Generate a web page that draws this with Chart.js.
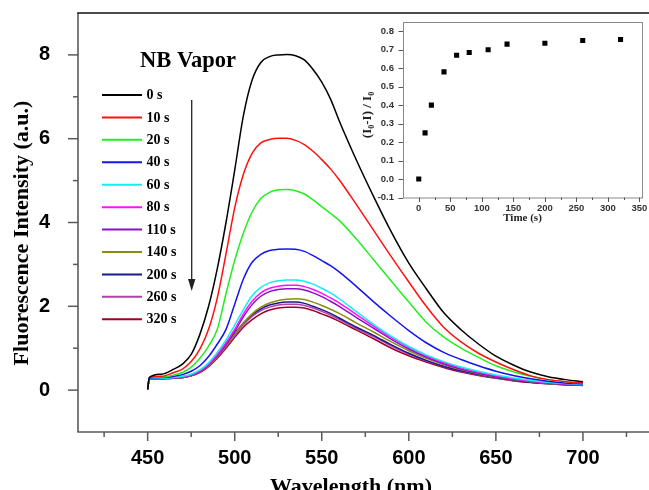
<!DOCTYPE html>
<html><head><meta charset="utf-8">
<script src="https://cdn.jsdelivr.net/npm/chart.js@4/dist/chart.umd.min.js"></script>
<style>
html,body{margin:0;padding:0;background:#fff;overflow:hidden;width:649px;height:490px;}
#main{position:absolute;left:0;top:0;}
#inset{position:absolute;left:350px;top:8px;}
</style></head><body>
<canvas id="main" width="690" height="500"></canvas>
<canvas id="inset" width="310" height="230"></canvas>
<script>
// ---- data ----
const WAVELENGTH = [450,451,458,465,470,475,480,485,490,495,500,505,510,515,520,525,530,535,540,545,550,555,560,570,580,590,600,610,620,630,640,650,660,670,680,690,700];
const S0   = [0.02,0.30,0.38,0.50,0.62,0.85,1.33,2.0,2.9,4.0, 5.25,6.55,7.4,7.82,7.96,8.0,8.01,7.98,7.88,7.65, 7.35,6.95,6.43,5.48,4.6,3.77,3.03,2.42,1.85,1.44, 1.1,0.81,0.6,0.43,0.32,0.25,0.2];
const S10  = [0.02,0.30,0.33,0.42,0.5,0.68,0.98,1.45,2.2,3.25, 4.35,5.15,5.65,5.9,5.98,6.01,6.01,5.96,5.86,5.7, 5.5,5.28,5.02,4.42,3.8,3.18,2.58,2.0,1.5,1.15, 0.88,0.67,0.49,0.34,0.25,0.2,0.17];
const S20  = [0.02,0.30,0.31,0.36,0.42,0.55,0.76,1.05,1.45,2.3, 3.1,3.75,4.25,4.57,4.72,4.78,4.79,4.76,4.68,4.54, 4.38,4.22,4.05,3.6,3.1,2.6,2.1,1.62,1.27,1.0, 0.78,0.58,0.44,0.33,0.25,0.2,0.17];
const S40  = [0.02,0.29,0.30,0.33,0.37,0.45,0.58,0.8,1.1,1.45, 2.05,2.65,3.05,3.24,3.33,3.36,3.37,3.36,3.31,3.21, 3.09,2.97,2.82,2.47,2.1,1.75,1.42,1.13,0.9,0.73, 0.58,0.45,0.35,0.27,0.21,0.17,0.15];
const S60  = [0.02,0.28,0.28,0.30,0.33,0.38,0.48,0.65,0.9,1.2, 1.55,1.92,2.25,2.45,2.56,2.61,2.63,2.63,2.6,2.53, 2.43,2.32,2.18,1.87,1.56,1.28,1.04,0.84,0.68,0.55, 0.45,0.36,0.29,0.23,0.19,0.16,0.14];
const S80  = [0.02,0.28,0.28,0.30,0.32,0.37,0.46,0.62,0.85,1.13, 1.45,1.82,2.12,2.32,2.43,2.48,2.5,2.5,2.47,2.4, 2.31,2.2,2.08,1.8,1.52,1.25,1.02,0.82,0.66,0.53, 0.43,0.34,0.27,0.22,0.18,0.15,0.13];
const S110 = [0.02,0.28,0.28,0.29,0.31,0.36,0.45,0.6,0.82,1.08, 1.4,1.75,2.04,2.24,2.35,2.4,2.42,2.42,2.39,2.32, 2.23,2.12,2.0,1.73,1.47,1.21,0.98,0.79,0.63,0.5, 0.4,0.32,0.26,0.21,0.17,0.14,0.12];
const S140 = [0.02,0.27,0.27,0.28,0.30,0.35,0.44,0.58,0.8,1.05, 1.33,1.6,1.82,1.98,2.08,2.14,2.17,2.18,2.16,2.1, 2.02,1.93,1.83,1.6,1.38,1.15,0.94,0.76,0.61,0.49, 0.39,0.31,0.25,0.2,0.16,0.14,0.12];
const S200 = [0.02,0.27,0.27,0.28,0.30,0.35,0.44,0.6,0.82,1.08, 1.35,1.6,1.8,1.94,2.03,2.08,2.1,2.1,2.07,2.0, 1.92,1.83,1.72,1.5,1.3,1.08,0.88,0.71,0.57,0.46, 0.37,0.3,0.24,0.19,0.16,0.13,0.12];
const S260 = [0.02,0.27,0.27,0.28,0.30,0.34,0.43,0.58,0.79,1.04, 1.3,1.56,1.76,1.9,1.98,2.03,2.05,2.05,2.02,1.96, 1.88,1.79,1.69,1.47,1.27,1.05,0.86,0.7,0.56,0.45, 0.36,0.29,0.23,0.19,0.15,0.13,0.12];
const S320 = [0.02,0.27,0.27,0.28,0.30,0.34,0.42,0.56,0.76,1.0, 1.26,1.5,1.68,1.82,1.91,1.96,1.98,1.98,1.96,1.9, 1.82,1.74,1.64,1.43,1.22,1.0,0.82,0.67,0.54,0.43, 0.35,0.28,0.22,0.18,0.15,0.13,0.11];
const SERIES_LABELS = ['0 s','10 s','20 s','40 s','60 s','80 s','110 s','140 s','200 s','260 s','320 s'];
const SERIES_COLORS = ['#000000','#ff1010','#22ee22','#1414f0','#10f0f0','#ff10ff','#8a10c8','#8c8c10','#1a1a8c','#b040b0','#a00028'];
const X_TICKS = [450,500,550,600,650,700];
const X_MINOR = [425,475,525,575,625,675,725];
const Y_TICKS = [0,2,4,6,8];
const Y_MINOR = [1,3,5,7];

const INSET_TIME = [0,10,20,40,60,80,110,140,200,260,320];
const INSET_QUENCH = [0.0,0.25,0.40,0.58,0.67,0.685,0.70,0.73,0.735,0.75,0.755];
const INSET_X_TICKS = [0,50,100,150,200,250,300,350];
const INSET_X_MINOR = [25,75,125,175,225,275,325];
const INSET_Y_TICKS = [-0.1,0.0,0.1,0.2,0.3,0.4,0.5,0.6,0.7,0.8];

const SERIES = [S0,S10,S20,S40,S60,S80,S110,S140,S200,S260,S320];

const SANS = "'Liberation Sans', Arial, sans-serif";
const SERIF = "'Liberation Serif', 'Times New Roman', serif";

function seg(ctx,x1,y1,x2,y2){ctx.beginPath();ctx.moveTo(x1,y1);ctx.lineTo(x2,y2);ctx.stroke();}
function noPad(s){s.paddingTop=0;s.paddingBottom=0;s.paddingLeft=0;s.paddingRight=0;}

const mainDeco = {
  id:'mainDeco',
  afterDraw(chart){
    const {ctx, chartArea:a, scales:{x,y}} = chart;
    ctx.save();
    ctx.lineCap='butt';
    // frame
    ctx.lineWidth=1.6; ctx.strokeStyle='#5a5a5a';
    seg(ctx,a.left,a.top,a.left,a.bottom);
    seg(ctx,a.left-0.8,a.bottom,a.right,a.bottom);
    seg(ctx,a.right,a.top,a.right,a.bottom);
    ctx.strokeStyle='#111';
    seg(ctx,a.left-0.8,a.top,a.right,a.top);
    // ticks
    ctx.strokeStyle='#5a5a5a'; ctx.lineWidth=1.5;
    Y_TICKS.forEach(v=>{const p=y.getPixelForValue(v); seg(ctx,a.left-10,p,a.left,p);});
    Y_MINOR.forEach(v=>{const p=y.getPixelForValue(v); seg(ctx,a.left-5,p,a.left,p);});
    X_TICKS.forEach(v=>{const p=x.getPixelForValue(v); seg(ctx,p,a.bottom,p,a.bottom+9);});
    X_MINOR.forEach(v=>{const p=x.getPixelForValue(v); seg(ctx,p,a.bottom,p,a.bottom+5);});
    // legend
    ctx.font='bold 14px '+SERIF; ctx.textBaseline='middle'; ctx.textAlign='left';
    chart.data.datasets.forEach((ds,i)=>{
      const yy = 95 + i*22.43;
      ctx.strokeStyle=ds.borderColor; ctx.lineWidth=2;
      seg(ctx,102,yy,142,yy);
      ctx.fillStyle='#000'; ctx.fillText(ds.label,146.5,yy+0.5);
    });
    // title
    ctx.font='bold 22.5px '+SERIF; ctx.textBaseline='alphabetic'; ctx.fillStyle='#000';
    ctx.fillText('NB Vapor',140,67);
    // arrow
    ctx.strokeStyle='#222'; ctx.lineWidth=1.3;
    seg(ctx,191.7,100,191.7,282);
    ctx.fillStyle='#222'; ctx.beginPath();
    ctx.moveTo(188,279); ctx.lineTo(195.4,279); ctx.lineTo(191.7,291); ctx.closePath(); ctx.fill();
    // axis titles
    ctx.fillStyle='#000'; ctx.font='bold 22px '+SERIF;
    ctx.textAlign='center'; ctx.textBaseline='alphabetic';
    ctx.fillText('Wavelength (nm)',351,493);
    ctx.save(); ctx.translate(22.5,233); ctx.rotate(-Math.PI/2);
    ctx.textBaseline='middle'; ctx.fillText('Fluorescence Intensity (a.u.)',0,0);
    ctx.restore();
    ctx.restore();
  }
};

new Chart(document.getElementById('main'),{
  type:'line',
  data:{datasets: SERIES.map((s,i)=>({
    label:SERIES_LABELS[i],
    data: WAVELENGTH.map((w,j)=>({x:w,y:s[j]})),
    borderColor:SERIES_COLORS[i], borderWidth:1.5, pointRadius:0, fill:false,
    cubicInterpolationMode:'monotone'
  }))},
  options:{
    responsive:false, animation:false, devicePixelRatio:1,
    layout:{padding:{left:0,top:13,right:20,bottom:0}},
    plugins:{legend:{display:false},tooltip:{enabled:false}},
    scales:{
      x:{type:'linear',min:410,max:750,
        grid:{display:false,drawTicks:false}, border:{display:false},
        afterBuildTicks:s=>{s.ticks=X_TICKS.map(v=>({value:v}));},
        afterFit:s=>{s.height=68;noPad(s);},
        ticks:{font:{family:SANS,size:20,weight:'bold'},color:'#000',padding:14.5,maxRotation:0,autoSkip:false}},
      y:{type:'linear',min:-1,max:9,
        grid:{display:false,drawTicks:false}, border:{display:false},
        afterBuildTicks:s=>{s.ticks=Y_TICKS.map(v=>({value:v}));},
        afterFit:s=>{s.width=78;noPad(s);},
        ticks:{font:{family:SANS,size:20,weight:'bold'},color:'#000',padding:28,autoSkip:false}}
    }
  },
  plugins:[mainDeco]
});

const insetDeco = {
  id:'insetDeco',
  afterDraw(chart){
    const {ctx, chartArea:a, scales:{x,y}} = chart;
    ctx.save();
    ctx.strokeStyle='#8a8a8a'; ctx.lineWidth=1;
    ctx.strokeRect(a.left+0.5,a.top+0.5,a.right-a.left,a.bottom-a.top);
    ctx.strokeStyle='#555';
    INSET_Y_TICKS.forEach(v=>{const p=Math.round(y.getPixelForValue(v))+0.5; seg(ctx,a.left-4.5,p,a.left,p);});
    INSET_X_TICKS.forEach(v=>{const p=Math.round(x.getPixelForValue(v))+0.5; seg(ctx,p,a.bottom,p,a.bottom+4.5);});
    INSET_X_MINOR.forEach(v=>{const p=Math.round(x.getPixelForValue(v))+0.5; seg(ctx,p,a.bottom,p,a.bottom+2.5);});
    ctx.fillStyle='#222';
    ctx.font='bold 11px '+SERIF; ctx.textAlign='center'; ctx.textBaseline='middle';
    ctx.fillText('Time (s)',(a.left+a.right)/2,218.5-8);
    // rotated y title with subscripts
    ctx.save(); ctx.translate(18,115-8); ctx.rotate(-Math.PI/2);
    const parts=[['(I',0],['0',1],['-I) / I',0],['0',1]];
    const fMain='bold 13px '+SERIF, fSub='bold 8px '+SERIF;
    let w=0; parts.forEach(p=>{ctx.font=p[1]?fSub:fMain; w+=ctx.measureText(p[0]).width;});
    let cx=-w/2; ctx.textAlign='left'; ctx.textBaseline='middle';
    parts.forEach(p=>{ctx.font=p[1]?fSub:fMain; ctx.fillText(p[0],cx,p[1]?3.5:0); cx+=ctx.measureText(p[0]).width;});
    ctx.restore();
    ctx.restore();
  }
};

new Chart(document.getElementById('inset'),{
  type:'scatter',
  data:{datasets:[{label:'(I0-I)/I0',
    data: INSET_TIME.map((t,i)=>({x:t,y:INSET_QUENCH[i]})),
    pointStyle:'rect', pointRadius:3.6, backgroundColor:'#000', borderColor:'#000', borderWidth:0}]},
  options:{
    responsive:false, animation:false, devicePixelRatio:1,
    layout:{padding:{left:0,top:14,right:18,bottom:0}},
    plugins:{legend:{display:false},tooltip:{enabled:false}},
    scales:{
      x:{type:'linear',min:-25,max:354,
        grid:{display:false,drawTicks:false}, border:{display:false},
        afterBuildTicks:s=>{s.ticks=INSET_X_TICKS.map(v=>({value:v}));},
        afterFit:s=>{s.height=40.5;noPad(s);},
        ticks:{font:{family:SANS,size:9.5,weight:'bold'},color:'#333',padding:5,maxRotation:0,autoSkip:false}},
      y:{type:'linear',min:-0.1,max:0.85,
        grid:{display:false,drawTicks:false}, border:{display:false},
        afterBuildTicks:s=>{s.ticks=INSET_Y_TICKS.map(v=>({value:v}));},
        afterFit:s=>{s.width=53;noPad(s);},
        ticks:{font:{family:SANS,size:9.5,weight:'bold'},color:'#333',padding:9,autoSkip:false,
          callback:v=>Number(v).toFixed(1)}}
    }
  },
  plugins:[insetDeco]
});
</script>
</body></html>
